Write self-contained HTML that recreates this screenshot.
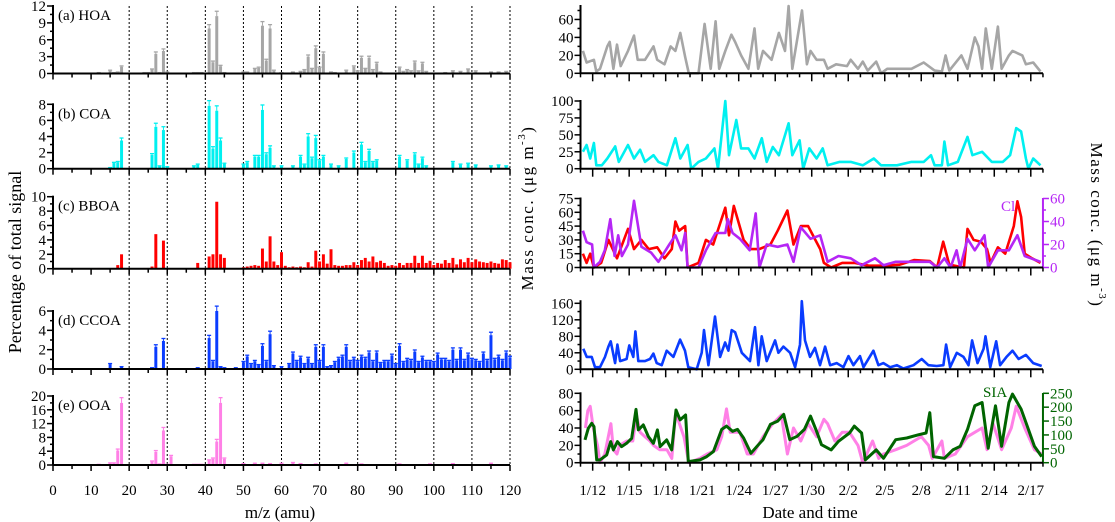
<!DOCTYPE html>
<html><head><meta charset="utf-8"><style>
html,body{margin:0;padding:0;background:#fff}
svg{display:block;font-family:"Liberation Serif",serif}
</style></head><body>
<svg id="chart" width="1115" height="522" viewBox="0 0 1115 522" xmlns="http://www.w3.org/2000/svg">
<g id="left"></g>
<g id="right"></g>
<text transform="translate(21,262) rotate(-90)" text-anchor="middle" font-size="18">Percentage of total signal</text>
<text x="280" y="518" text-anchor="middle" font-size="17">m/z (amu)</text>
<text x="810" y="518" text-anchor="middle" font-size="17">Date and time</text>
<text transform="translate(533,208) rotate(-90)" text-anchor="middle" font-size="17" letter-spacing="1.5">Mass conc. (μg m<tspan font-size="11" dy="-8">-3</tspan><tspan dy="8">)</tspan></text>
<text transform="translate(1091,225) rotate(90)" text-anchor="middle" font-size="17" letter-spacing="1.5">Mass conc. (μg m<tspan font-size="11" dy="-8">-3</tspan><tspan dy="8">)</tspan></text>
</svg>
<script>
// ---------- Mass spectra data ----------
const hoaMz=[12,15,16,17,18,24,25,26,27,28,29,30,37,38,39,41,42,43,44,45,50,51,53,54,55,56,57,58,60,63,65,66,67,68,69,70,71,73,74,77,79,80,81,82,83,84,85,86,91,92,93,94,95,96,97,98,103,105,107,109,111,115,117,119];
const hoaVal=[0.1,0.5,0.1,0.2,1.2,0.1,0.1,0.7,3.5,0.1,4.0,0.2,0.1,0.1,0.1,8.0,2.0,10.2,1.3,0.1,0.2,0.2,0.8,1.0,8.5,2.3,8.0,0.5,0.1,0.2,0.3,0.6,3.0,0.8,4.5,1.0,3.5,0.2,0.1,0.5,1.2,0.4,2.8,0.8,2.8,0.6,1.8,0.2,1.0,0.3,0.6,0.4,2.0,0.4,1.8,0.3,0.1,0.4,0.3,0.7,0.4,0.2,0.2,0.3];
const coaMz=[15,16,17,18,26,27,28,29,30,37,38,41,42,43,44,45,50,51,53,54,55,56,57,58,60,63,65,66,67,68,69,70,71,73,75,77,79,81,82,83,84,85,91,93,95,96,97,98,105,107,109,111,115,117,119];
const coaVal=[0.1,0.7,0.8,3.5,1.7,5.2,0.3,4.8,0.2,0.3,0.5,7.8,2.5,7.2,3.5,0.6,0.5,0.8,1.5,1.5,7.3,1.8,2.6,0.3,0.3,0.3,1.5,0.5,4.0,1.3,3.8,1.0,1.5,0.5,0.3,1.2,2.0,3.0,0.8,2.2,0.8,1.0,1.5,1.0,1.8,0.5,1.3,0.3,0.8,0.5,0.6,0.4,0.3,0.4,0.3];
const bboaMz=[12,15,16,17,18,24,25,26,27,29,37,38,41,42,43,44,45,48,49,50,51,52,53,54,55,56,57,58,59,60,61,62,63,64,65,66,67,68,69,70,71,72,73,74,75,76,77,78,79,80,81,82,83,84,85,86,87,88,89,90,91,92,93,94,95,96,97,98,99,100,101,102,103,104,105,106,107,108,109,110,111,112,113,114,115,116,117,118,119,120];
const bboaVal=[0.1,0.05,0.1,0.5,2.0,0.1,0.1,0.3,4.8,3.9,0.1,0.8,1.7,2.0,9.3,2.0,1.5,0.1,0.1,0.2,0.3,0.4,0.5,0.4,2.8,1.0,4.5,1.0,0.5,2.3,0.4,0.2,0.3,0.2,0.3,0.2,0.9,0.3,2.5,1.0,2.0,0.7,2.7,0.5,0.4,0.4,0.5,0.5,0.9,0.5,1.2,1.5,1.0,1.7,0.9,1.1,0.8,0.4,0.5,0.4,0.8,0.5,0.8,0.8,1.8,0.8,1.8,0.8,1.1,0.5,0.8,0.7,1.2,0.8,1.5,0.6,1.3,0.9,1.5,0.9,1.3,1.0,0.9,0.8,1.0,0.8,0.7,1.3,1.2,0.9];
const ccoaMz=[15,18,26,27,29,38,41,42,43,44,45,48,50,51,52,53,54,55,56,57,58,60,62,63,64,65,66,67,68,69,70,71,72,73,74,75,76,77,78,79,80,81,82,83,84,85,86,87,88,89,90,91,92,93,94,95,96,97,98,99,100,101,102,103,104,105,106,107,108,109,110,111,112,113,114,115,116,117,118,119,120];
const ccoaVal=[0.5,0.2,0.1,2.3,2.9,0.1,3.2,0.8,6.0,0.2,0.1,0.1,0.7,1.3,0.5,0.8,0.4,2.4,0.8,3.6,0.3,0.2,0.5,1.6,0.8,1.2,0.5,1.1,0.5,2.3,0.8,2.3,0.2,0.3,0.7,1.1,1.3,2.3,0.8,1.1,0.8,1.3,1.1,1.7,0.8,1.7,0.6,0.8,0.8,1.4,0.5,2.4,0.7,1.0,0.9,1.8,0.7,1.2,0.8,0.8,0.7,1.5,1.0,1.0,0.8,2.0,0.9,2.0,0.9,1.5,1.0,0.9,0.7,1.6,0.9,3.5,1.0,1.3,0.9,1.7,1.2];
const ooaMz=[12,15,16,17,18,26,27,28,29,30,31,37,38,39,41,42,43,44,45,50,53,55,57,60,63,65,69,77,81,91,99,105,115];
const ooaVal=[0.1,0.5,0.5,4.2,18,1,3.8,0.2,10,0.1,2.5,0.1,0.1,0.1,1.3,1.8,6.8,18,1.8,0.3,0.4,0.4,0.3,0.4,0.6,0.3,0.2,0.4,0.2,0.2,0.2,0.3,0.4];
const mzTicks=[0,10,20,30,40,50,60,70,80,90,100,110,120];

// ---------- Time series data (day 0 = 1/11 00:00) ----------
const hoaT=[0.2,0.5,1.1,1.3,1.6,2.2,2.4,2.7,3.0,3.3,3.9,4.4,4.7,5.3,6.0,6.3,6.9,7.4,7.8,8.2,8.6,8.9,9.7,10.2,10.7,11.1,11.4,11.9,12.4,12.7,13.2,13.8,14.3,14.6,15.0,15.7,16.3,16.8,17.1,17.4,18.2,18.6,18.9,19.4,20.0,20.3,21.0,21.9,22.2,22.8,23.2,23.6,24.3,24.7,25.2,26.3,27.2,28.2,29.1,29.7,30.0,30.3,31.3,31.8,32.4,32.7,33.0,33.3,33.8,34.3,34.6,35.2,35.5,36.3,36.6,37.2,37.8];
const hoaC=[25,12,15,2,5,30,35,5,32,8,25,42,15,15,30,15,10,30,25,45,18,0,0,55,5,58,5,25,43,35,20,5,50,5,25,15,45,25,75,5,70,10,25,15,15,5,10,8,15,5,13,3,13,0,5,5,5,12,3,2,20,3,20,5,40,30,5,50,5,52,5,20,25,20,10,12,2];
const coaT=[0.2,0.5,0.8,1.1,1.3,1.75,2.2,2.85,3.15,3.9,4.4,4.9,5.3,6.0,6.4,7.1,7.8,8.2,8.8,9.1,9.7,10.3,11.0,11.3,11.9,12.2,12.8,13.2,13.8,14.3,14.9,15.3,15.8,16.3,17.1,17.4,18.0,18.3,18.8,19.4,19.9,20.3,21.3,22.2,23.2,24.1,24.7,26.0,27.2,28.2,28.8,29.1,29.7,29.9,30.2,31.0,31.8,32.2,33.0,33.8,34.7,35.3,35.8,36.2,36.6,36.8,37.2,37.8];
const coaC=[25,35,15,38,5,5,15,33,10,35,15,28,10,20,10,5,45,15,35,0,10,15,30,0,100,20,72,30,30,15,45,10,32,20,67,20,42,0,30,15,30,5,10,10,5,15,5,5,10,10,20,5,5,40,5,10,47,20,25,10,10,20,60,55,15,0,15,5];
const bboaT=[0.2,0.5,0.8,1.1,1.7,2.3,3.0,3.9,4.4,5.0,5.6,6.3,6.9,7.5,7.8,8.1,8.6,8.8,9.7,10.3,10.9,11.9,12.2,12.6,13.4,14.0,14.7,15.6,16.2,17.0,17.5,18.1,18.7,19.7,20.0,20.6,21.5,22.5,23.7,24.9,26.2,27.4,28.7,29.3,29.8,30.3,31.5,31.8,32.3,32.9,33.4,33.7,34.3,34.9,35.6,35.9,36.2,36.5,37.1,37.8];
const bboaC=[15,5,15,0,5,30,10,42,20,30,20,22,10,20,50,40,45,0,5,30,25,65,35,67,30,20,20,25,40,62,25,45,45,20,5,0,5,5,2,2,3,8,7,0,28,3,0,42,30,28,20,5,22,15,45,72,55,15,10,5];
const clT=[0.2,0.5,0.95,1.1,1.6,2.0,2.45,2.8,3.1,3.4,3.9,4.4,5.0,5.8,6.4,7.3,7.8,8.3,8.6,8.8,9.7,10.3,11.1,11.9,12.1,12.5,13.1,13.9,14.4,14.7,15.3,16.2,17.0,17.5,18.1,18.9,19.7,20.3,21.2,22.2,23.1,24.2,24.9,25.9,27.5,28.7,29.3,29.9,30.4,30.9,31.2,31.8,32.4,33.2,33.5,34.3,35.2,35.9,36.5,37.8];
const clC=[32,22,20,0,5,15,42,10,28,10,20,58,18,13,5,20,28,15,30,0,0,15,30,30,42,30,25,15,47,0,20,18,20,5,35,25,28,5,10,8,2,8,2,5,5,5,0,8,0,15,0,25,15,28,0,15,15,28,10,5];
const ccoaT=[0.23,0.51,0.92,1.19,1.6,2.01,2.29,2.48,2.84,3.03,3.25,3.79,4.01,4.34,4.51,4.75,5.3,5.71,5.99,6.26,6.67,7.08,7.63,8.18,8.59,8.86,9.55,9.96,10.15,10.51,11.05,11.47,11.88,12.15,12.42,12.7,13.25,13.93,14.34,14.62,14.89,15.3,15.99,16.26,16.67,17.22,17.63,18.04,18.18,18.45,18.86,19.27,19.68,20.1,20.51,21.05,21.6,22.02,22.42,22.97,23.25,24.07,24.48,24.89,25.44,25.99,26.53,27.36,28.04,28.59,29.27,29.82,30.04,30.37,30.92,31.47,31.88,32.18,32.62,33.12,33.28,33.67,34.16,34.48,35.0,35.5,36.0,36.6,37.2,37.9];
const ccoaC=[50,30,30,5,5,30,55,68,15,60,20,25,58,30,92,20,20,25,38,15,10,45,30,72,45,5,0,40,95,10,128,30,65,45,95,90,40,20,102,10,80,20,70,40,55,40,5,60,165,70,30,52,10,55,10,15,5,32,10,32,5,45,10,15,5,10,2,10,25,10,8,10,60,5,40,30,10,70,15,50,80,5,68,10,30,45,25,35,15,8];
const ooaT=[0.4,0.6,0.8,1.05,1.4,1.6,2.0,2.5,2.7,3.0,3.2,3.8,4.3,4.6,4.9,5.3,5.7,6.0,6.5,7.1,7.5,7.8,8.0,8.5,8.9,9.8,10.4,11.2,11.6,12.0,12.3,13.1,13.7,14.2,15.0,15.8,16.5,17.0,17.5,18.1,18.7,19.4,20.0,20.3,20.9,21.5,22.1,22.8,23.2,24.0,24.5,24.9,25.9,26.8,27.4,28.0,28.6,28.9,29.7,29.9,30.8,31.8,32.4,33.0,33.4,33.9,34.6,35.4,35.8,36.5,37.3,37.9];
const ooaC=[40,60,65,40,20,0,10,45,15,10,20,25,25,55,35,30,25,20,15,15,5,55,50,30,0,5,10,15,30,62,35,35,10,10,30,45,55,10,40,25,45,30,50,45,25,35,35,20,0,25,5,10,15,20,25,30,20,5,25,5,10,30,35,40,15,45,15,40,65,40,15,10];
const siaT=[0.37,0.64,0.92,1.11,1.33,1.6,2.15,2.48,2.7,3.03,3.38,3.79,4.21,4.56,4.75,5.16,5.58,5.99,6.32,6.54,7.08,7.49,7.85,8.18,8.64,8.86,9.82,10.37,10.92,11.6,12.0,12.5,12.9,13.4,14.0,14.5,15.0,15.6,16.2,16.7,17.2,17.8,18.4,18.9,19.4,19.8,20.6,21.2,22.1,22.5,23.1,23.4,24.3,24.9,25.9,26.8,27.8,28.4,28.7,29.0,29.9,30.6,31.2,31.8,32.4,33.0,33.5,34.1,34.6,35.2,35.5,36.2,36.8,37.3,37.9];
const siaC=[82,124,142,130,10,10,28,76,46,76,58,70,88,192,118,136,94,70,118,58,82,46,190,154,172,4,10,22,40,120,132,113,120,89,34,59,83,138,150,174,83,95,120,168,113,65,46,77,107,132,107,10,46,16,83,89,101,107,180,22,16,46,59,120,205,217,52,205,59,217,247,193,120,59,22];
const dateLabels=["1/12","1/15","1/18","1/21","1/24","1/27","1/30","2/2","2/5","2/8","2/11","2/14","2/17"];
const dateLabelDays=[1,4,7,10,13,16,19,22,25,28,31,34,37];

const NS="http://www.w3.org/2000/svg";
function mk(parent,tag,attrs,text){const e=document.createElementNS(NS,tag);for(const k in attrs)e.setAttribute(k,attrs[k]);if(text!==undefined)e.textContent=text;parent.appendChild(e);return e;}

// ---------- Left: spectra ----------
const L=document.getElementById('left');
const X0=53,X1=510;
const xm=m=>X0+(X1-X0)*m/120;
mzTicks.filter(m=>m>=20).forEach(m=>{
  const l=mk(L,'line',{x1:xm(m),x2:xm(m),y1:6,y2:468,stroke:'#000','stroke-width':1,'stroke-dasharray':'2,2'});
  
  
});
const lpanels=[
 {name:'hoa',label:'(a) HOA',mz:hoaMz,val:hoaVal,color:'#a6a6a6',y0:73.5,yt:6,max:12,ticks:[0,3,6,9,12],minor:1.5,err:true},
 {name:'coa',label:'(b) COA',mz:coaMz,val:coaVal,color:'#00f0f0',y0:168.7,yt:104.3,max:8,ticks:[0,2,4,6,8],minor:1,err:true},
 {name:'bboa',label:'(c) BBOA',mz:bboaMz,val:bboaVal,color:'#ff0000',y0:268.7,yt:196.7,max:10,ticks:[0,2,4,6,8,10],minor:1,err:false},
 {name:'ccoa',label:'(d) CCOA',mz:ccoaMz,val:ccoaVal,color:'#0a3cff',y0:369,yt:311,max:6,ticks:[0,2,4,6],minor:1,err:true},
 {name:'ooa',label:'(e) OOA',mz:ooaMz,val:ooaVal,color:'#ff80e6',y0:465,yt:396,max:20,ticks:[0,4,8,12,16,20],minor:2,err:true}
];
lpanels.forEach((p,pi)=>{
  const g=mk(L,'g',{});
  
  
  const ys=v=>p.y0-(p.y0-p.yt)*v/p.max;
  const n=Math.min(p.mz.length,p.val.length);
  const bw=(X1-X0)/120*0.78;
  for(let i=0;i<n;i++){
    const m=p.mz[i],v=p.val[i];
    const b=mk(g,'rect',{x:xm(m)-bw/2,y:ys(v),width:bw,height:Math.max(0.6,p.y0-ys(v)),fill:p.color});
    
    
    if(p.err){
      const e=v*0.08+0.04*p.max/10;
      mk(g,'line',{x1:xm(m),x2:xm(m),y1:ys(v),y2:ys(v+e),stroke:p.color,'stroke-width':1});
      mk(g,'line',{x1:xm(m)-2,x2:xm(m)+2,y1:ys(v+e),y2:ys(v+e),stroke:p.color,'stroke-width':1.3});
    }
  }
  mk(g,'line',{x1:X0,x2:X1,y1:p.y0,y2:p.y0,stroke:'#000','stroke-width':2});
  mk(g,'line',{x1:X0,x2:X0,y1:p.y0,y2:p.yt-1,stroke:'#000','stroke-width':2});
  for(let m=0;m<=120;m+=5){mk(g,'line',{x1:xm(m),x2:xm(m),y1:p.y0,y2:p.y0+(m%10===0?6:4),stroke:'#000','stroke-width':1.5});}
  for(let v=0;v<=p.max+1e-9;v+=p.minor){mk(g,'line',{x1:X0-(p.ticks.includes(+v.toFixed(3))?6:3),x2:X0,y1:ys(v),y2:ys(v),stroke:'#000','stroke-width':1.5});}
  p.ticks.forEach(t=>{const tx=mk(g,'text',{x:X0-7,y:ys(t)+5,'text-anchor':'end','font-size':15},String(t));
    });
  const lab=mk(g,'text',{x:58,y:p.yt+14,'font-size':15},p.label);
  
  
});
mzTicks.forEach(m=>{const t=mk(L,'text',{x:xm(m),y:495,'text-anchor':'middle','font-size':15},String(m));
  });

// ---------- Right: time series ----------
const R=document.getElementById('right');
const T0=580.5,DAYPX=12.17,TEND=38;
const xt=d=>T0+d*DAYPX;
const XR=xt(TEND);
function poly(g,T,C,ys,color,w,name){
  const n=Math.min(T.length,C.length);let pts=[];
  for(let i=0;i<n;i++)pts.push(xt(T[i]).toFixed(1)+','+ys(C[i]).toFixed(1));
  const pl=mk(g,'polyline',{points:pts.join(' '),fill:'none',stroke:color,'stroke-width':w,'stroke-linejoin':'round'});
  
  
}
const rpanels=[
 {name:'hoa',T:hoaT,C:hoaC,color:'#a6a6a6',y0:73.3,yt:6,max:75,ticks:[0,20,40,60],minor:10,axTop:75},
 {name:'coa',T:coaT,C:coaC,color:'#00f0f0',y0:168.7,yt:101,max:100,ticks:[0,25,50,75,100],minor:12.5,axTop:100},
 {name:'bboa',T:bboaT,C:bboaC,color:'#ff0000',y0:267.5,yt:198.5,max:75,ticks:[0,15,30,45,60,75],minor:7.5,axTop:75},
 {name:'ccoa',T:ccoaT,C:ccoaC,color:'#0a3cff',y0:369.3,yt:303.3,max:160,ticks:[0,40,80,120,160],minor:20,axTop:165},
 {name:'ooa',T:ooaT,C:ooaC,color:'#ff80e6',y0:462.7,yt:393.3,max:80,ticks:[0,20,40,60,80],minor:10,axTop:80}
];
rpanels.forEach(p=>{
  const g=mk(R,'g',{});
  
  
  const ys=v=>p.y0-(p.y0-p.yt)*v/p.max;
  poly(g,p.T,p.C,ys,p.color,p.name==='ooa'?3:2.6,'line-'+p.name);
  if(p.name==='bboa'){
    const ysc=v=>p.y0-(p.y0-198.5)*v/60;
    poly(g,clT,clC,ysc,'#b526f5',2.6,'line-cl');
    mk(g,'line',{x1:XR,x2:XR,y1:p.y0,y2:198,stroke:'#b526f5','stroke-width':2});
    [0,20,40,60].forEach(t=>{mk(g,'line',{x1:XR,x2:XR+6,y1:ysc(t),y2:ysc(t),stroke:'#b526f5','stroke-width':1.5});
      const tx=mk(g,'text',{x:XR+7,y:ysc(t)+5,'font-size':15,fill:'#b526f5'},String(t));
      });
    [10,30,50].forEach(t=>mk(g,'line',{x1:XR,x2:XR+3,y1:ysc(t),y2:ysc(t),stroke:'#b526f5','stroke-width':1.5}));
    const cl=mk(g,'text',{x:1001,y:211,'font-size':15,fill:'#b526f5'},'Cl');
    
  }
  if(p.name==='ooa'){
    const yss=v=>p.y0-(p.y0-393.3)*v/250;
    poly(g,siaT,siaC,yss,'#006400',3,'line-sia');
    mk(g,'line',{x1:XR,x2:XR,y1:p.y0,y2:393,stroke:'#006400','stroke-width':2});
    [0,50,100,150,200,250].forEach(t=>{mk(g,'line',{x1:XR,x2:XR+6,y1:yss(t),y2:yss(t),stroke:'#006400','stroke-width':1.5});
      const tx=mk(g,'text',{x:XR+7,y:yss(t)+5,'font-size':15,fill:'#006400'},String(t));
      });
    const s=mk(g,'text',{x:983,y:397,'font-size':15,fill:'#006400'},'SIA');
    
  }
  mk(g,'line',{x1:T0-1,x2:XR,y1:p.y0,y2:p.y0,stroke:'#000','stroke-width':2});
  mk(g,'line',{x1:T0,x2:T0,y1:p.y0,y2:ys(p.axTop)-1,stroke:'#000','stroke-width':2});
  for(let d=0;d<=TEND;d++){mk(g,'line',{x1:xt(d),x2:xt(d),y1:p.y0,y2:p.y0+(dateLabelDays.includes(d)?8:4),stroke:'#000','stroke-width':1.5});}
  for(let v=0;v<=p.axTop+1e-9;v+=p.minor){mk(g,'line',{x1:T0-(p.ticks.includes(v)?6:3),x2:T0,y1:ys(v),y2:ys(v),stroke:'#000','stroke-width':1.5});}
  p.ticks.forEach(t=>{const tx=mk(g,'text',{x:T0-7,y:ys(t)+5,'text-anchor':'end','font-size':15},String(t));
    });
});
dateLabels.forEach((s,i)=>{const t=mk(R,'text',{x:xt(dateLabelDays[i]),y:495,'text-anchor':'middle','font-size':15},s);
  });
</script>
</body></html>
